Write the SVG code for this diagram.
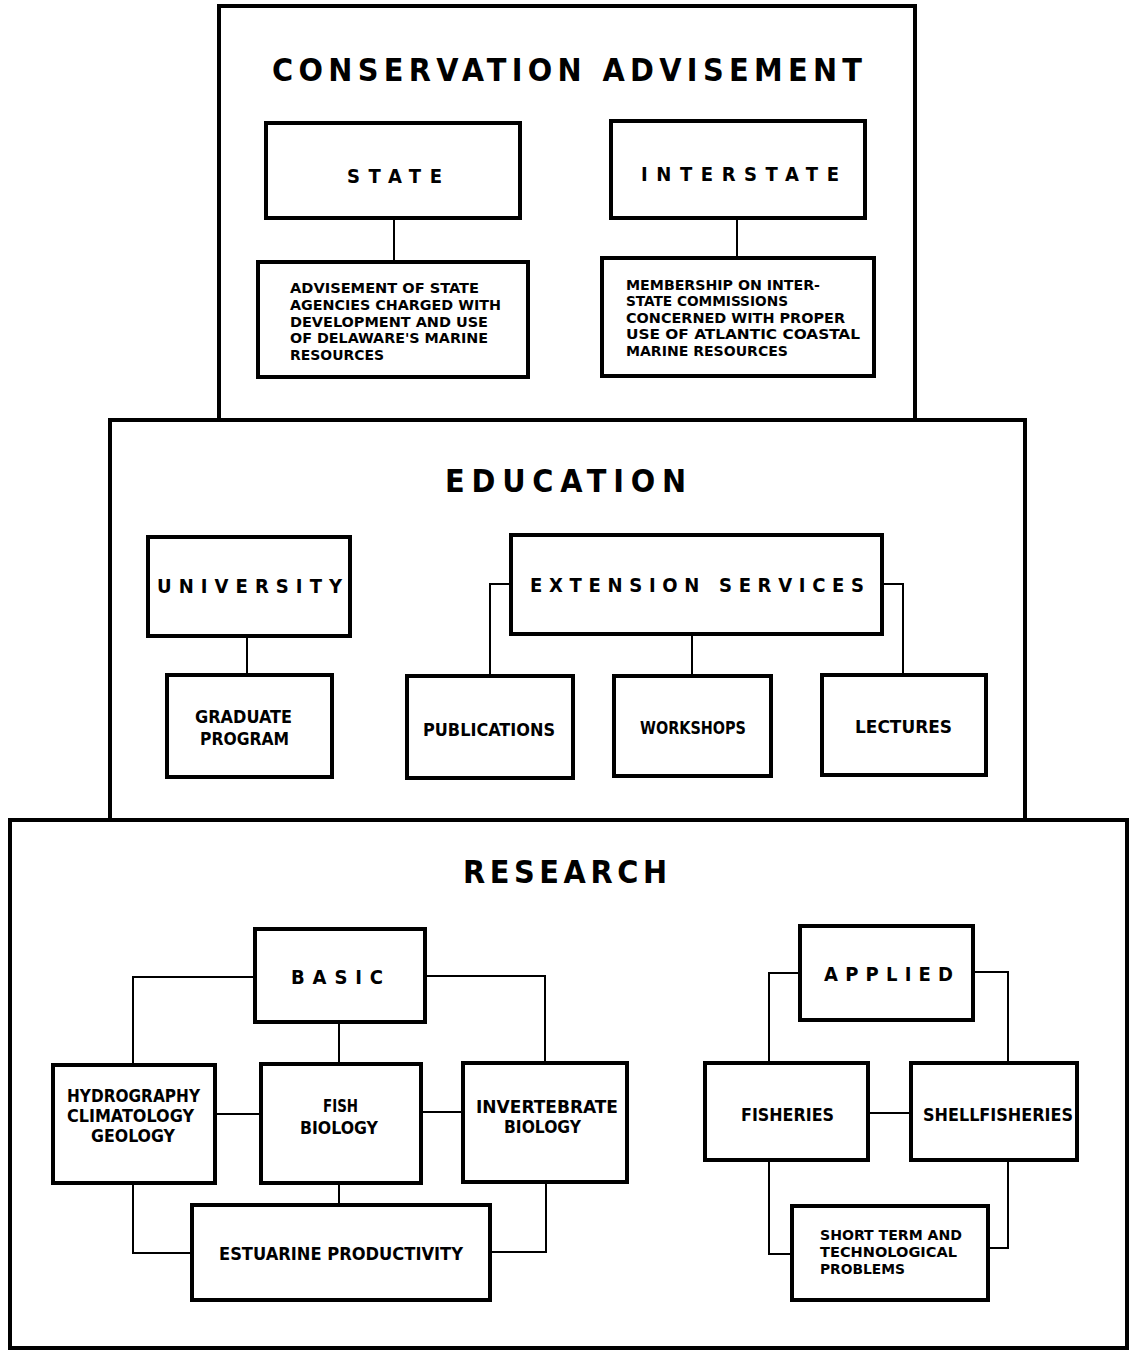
<svg xmlns="http://www.w3.org/2000/svg" width="1135" height="1354" viewBox="0 0 1135 1354">
<style>
.sec{fill:none;stroke:#000;stroke-width:4}
.box{fill:#fff;stroke:#000;stroke-width:4}
.c{fill:none;stroke:#000;stroke-width:2}
text{font-family:"Liberation Sans Narrow","DejaVu Sans Condensed","Liberation Sans",Arial,sans-serif;font-weight:bold;fill:#000}
.t1{font-size:32px}
.t2{font-size:20px}
.t3{font-size:18px}
.t4{font-size:14px}
</style>
<rect width="1135" height="1354" fill="#fff"/>
<g id="sections">
<rect class="sec" x="219" y="6" width="696" height="414"/>
<rect class="sec" x="110" y="420" width="915" height="400"/>
<rect class="sec" x="10" y="820" width="1117" height="528"/>
</g>
<g id="titles">
<text class="t1" x="272" y="81" textLength="590" lengthAdjust="spacing">CONSERVATION  ADVISEMENT</text>
<text class="t1" x="445" y="492" textLength="241" lengthAdjust="spacing">EDUCATION</text>
<text class="t1" x="463" y="883" textLength="204" lengthAdjust="spacing">RESEARCH</text>
</g>
<g id="connectors">
<line class="c" x1="394" y1="218" x2="394" y2="262"/>
<line class="c" x1="737" y1="218" x2="737" y2="258"/>
<line class="c" x1="247" y1="636" x2="247" y2="675"/>
<polyline class="c" points="511,584 490,584 490,676"/>
<line class="c" x1="692" y1="634" x2="692" y2="676"/>
<polyline class="c" points="882,584 903,584 903,675"/>
<polyline class="c" points="255,977 133,977 133,1065"/>
<polyline class="c" points="425,976 545,976 545,1063"/>
<line class="c" x1="339" y1="1022" x2="339" y2="1064"/>
<line class="c" x1="215" y1="1114" x2="261" y2="1114"/>
<line class="c" x1="421" y1="1112" x2="463" y2="1112"/>
<line class="c" x1="339" y1="1183" x2="339" y2="1205"/>
<polyline class="c" points="133,1183 133,1253 192,1253"/>
<polyline class="c" points="546,1182 546,1252 490,1252"/>
<polyline class="c" points="800,973 769,973 769,1063"/>
<polyline class="c" points="973,972 1008,972 1008,1063"/>
<line class="c" x1="868" y1="1113" x2="911" y2="1113"/>
<polyline class="c" points="769,1160 769,1254 792,1254"/>
<polyline class="c" points="1008,1160 1008,1248 988,1248"/>
</g>
<g id="state">
<rect class="box" x="266" y="123" width="254" height="95"/>
<text class="t2" x="347" y="183" textLength="95" lengthAdjust="spacing">STATE</text>
</g>
<g id="interstate">
<rect class="box" x="611" y="121" width="254" height="97"/>
<text class="t2" x="641" y="181" textLength="198" lengthAdjust="spacing">INTERSTATE</text>
</g>
<g id="state-desc">
<rect class="box" x="258" y="262" width="270" height="115"/>
<text class="t4" x="290" y="293" textLength="189" lengthAdjust="spacingAndGlyphs">ADVISEMENT OF STATE</text>
<text class="t4" x="290" y="310" textLength="211" lengthAdjust="spacingAndGlyphs">AGENCIES CHARGED WITH</text>
<text class="t4" x="290" y="327" textLength="198" lengthAdjust="spacingAndGlyphs">DEVELOPMENT AND USE</text>
<text class="t4" x="290" y="343" textLength="198" lengthAdjust="spacingAndGlyphs">OF DELAWARE'S MARINE</text>
<text class="t4" x="290" y="360" textLength="94" lengthAdjust="spacingAndGlyphs">RESOURCES</text>
</g>
<g id="interstate-desc">
<rect class="box" x="602" y="258" width="272" height="118"/>
<text class="t4" x="626" y="290" textLength="194" lengthAdjust="spacingAndGlyphs">MEMBERSHIP ON INTER-</text>
<text class="t4" x="626" y="306" textLength="162" lengthAdjust="spacingAndGlyphs">STATE COMMISSIONS</text>
<text class="t4" x="626" y="323" textLength="219" lengthAdjust="spacingAndGlyphs">CONCERNED WITH PROPER</text>
<text class="t4" x="626" y="339" textLength="234" lengthAdjust="spacingAndGlyphs">USE OF ATLANTIC COASTAL</text>
<text class="t4" x="626" y="356" textLength="162" lengthAdjust="spacingAndGlyphs">MARINE RESOURCES</text>
</g>
<g id="university">
<rect class="box" x="148" y="537" width="202" height="99"/>
<text class="t2" x="157" y="593" textLength="185" lengthAdjust="spacing">UNIVERSITY</text>
</g>
<g id="extension">
<rect class="box" x="511" y="535" width="371" height="99"/>
<text class="t2" x="530" y="592" textLength="334" lengthAdjust="spacing">EXTENSION  SERVICES</text>
</g>
<g id="graduate">
<rect class="box" x="167" y="675" width="165" height="102"/>
<text class="t3" x="195" y="723" textLength="97" lengthAdjust="spacingAndGlyphs">GRADUATE</text>
<text class="t3" x="200" y="745" textLength="89" lengthAdjust="spacingAndGlyphs">PROGRAM</text>
</g>
<g id="publications">
<rect class="box" x="407" y="676" width="166" height="102"/>
<text class="t3" x="423" y="736" textLength="132" lengthAdjust="spacingAndGlyphs">PUBLICATIONS</text>
</g>
<g id="workshops">
<rect class="box" x="614" y="676" width="157" height="100"/>
<text class="t3" x="640" y="734" textLength="106" lengthAdjust="spacingAndGlyphs">WORKSHOPS</text>
</g>
<g id="lectures">
<rect class="box" x="822" y="675" width="164" height="100"/>
<text class="t3" x="855" y="733" textLength="97" lengthAdjust="spacingAndGlyphs">LECTURES</text>
</g>
<g id="basic">
<rect class="box" x="255" y="929" width="170" height="93"/>
<text class="t2" x="291" y="984" textLength="92" lengthAdjust="spacing">BASIC</text>
</g>
<g id="hydrography">
<rect class="box" x="53" y="1065" width="162" height="118"/>
<text class="t3" x="67" y="1102" textLength="133" lengthAdjust="spacingAndGlyphs">HYDROGRAPHY</text>
<text class="t3" x="67" y="1122" textLength="127" lengthAdjust="spacingAndGlyphs">CLIMATOLOGY</text>
<text class="t3" x="91" y="1142" textLength="84" lengthAdjust="spacingAndGlyphs">GEOLOGY</text>
</g>
<g id="fish-biology">
<rect class="box" x="261" y="1064" width="160" height="119"/>
<text class="t3" x="323" y="1112" textLength="35" lengthAdjust="spacingAndGlyphs">FISH</text>
<text class="t3" x="300" y="1134" textLength="78" lengthAdjust="spacingAndGlyphs">BIOLOGY</text>
</g>
<g id="invertebrate">
<rect class="box" x="463" y="1063" width="164" height="119"/>
<text class="t3" x="476" y="1113" textLength="142" lengthAdjust="spacingAndGlyphs">INVERTEBRATE</text>
<text class="t3" x="504" y="1133" textLength="77" lengthAdjust="spacingAndGlyphs">BIOLOGY</text>
</g>
<g id="estuarine">
<rect class="box" x="192" y="1205" width="298" height="95"/>
<text class="t3" x="219" y="1260" textLength="244" lengthAdjust="spacingAndGlyphs">ESTUARINE PRODUCTIVITY</text>
</g>
<g id="applied">
<rect class="box" x="800" y="926" width="173" height="94"/>
<text class="t2" x="824" y="981" textLength="129" lengthAdjust="spacing">APPLIED</text>
</g>
<g id="fisheries">
<rect class="box" x="705" y="1063" width="163" height="97"/>
<text class="t3" x="741" y="1121" textLength="93" lengthAdjust="spacingAndGlyphs">FISHERIES</text>
</g>
<g id="shellfisheries">
<rect class="box" x="911" y="1063" width="166" height="97"/>
<text class="t3" x="923" y="1121" textLength="150" lengthAdjust="spacingAndGlyphs">SHELLFISHERIES</text>
</g>
<g id="short-term">
<rect class="box" x="792" y="1206" width="196" height="94"/>
<text class="t4" x="820" y="1240" textLength="142" lengthAdjust="spacingAndGlyphs">SHORT TERM AND</text>
<text class="t4" x="820" y="1257" textLength="137" lengthAdjust="spacingAndGlyphs">TECHNOLOGICAL</text>
<text class="t4" x="820" y="1274" textLength="85" lengthAdjust="spacingAndGlyphs">PROBLEMS</text>
</g>
</svg>
